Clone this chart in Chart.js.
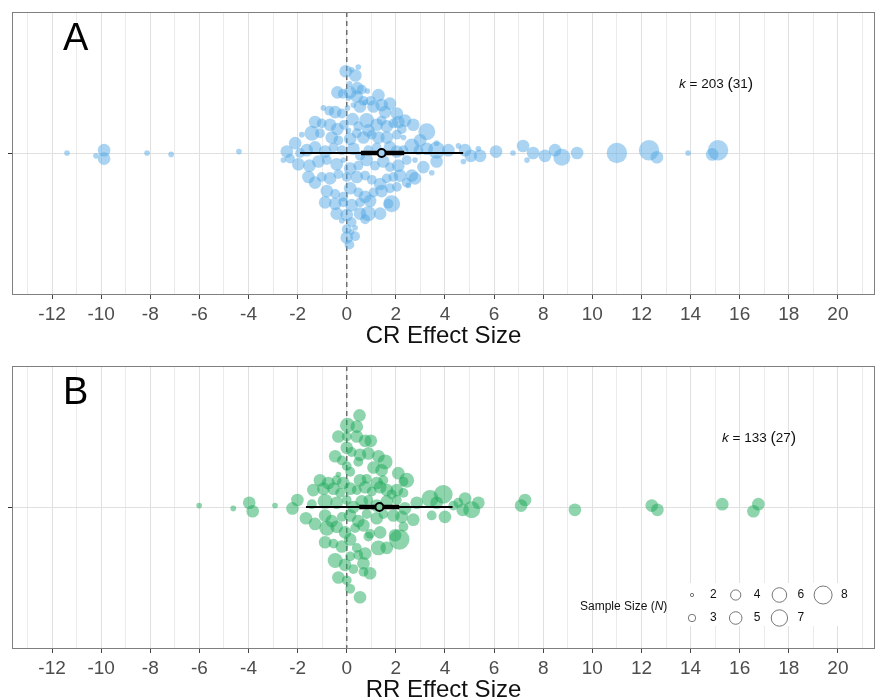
<!DOCTYPE html>
<html lang="en">
<head>
<meta charset="UTF-8">
<title>CR / RR effect sizes</title>
<style>
  body { margin: 0; background: #fff; }
  canvas { position: absolute; left: 0; }
  #chartA { top: 0; }
  #chartB { top: 354px; }
</style>
</head>
<body>
<canvas id="chartA" width="875" height="351"></canvas>
<canvas id="chartB" width="875" height="351"></canvas>

<script src="https://cdn.jsdelivr.net/npm/chart.js"></script>
<script>
// ---- panel A: CR effect sizes (x = effect size, y = swarm offset, n = sample size)
var crX = [
  -0.04, 0.35, 0.47, 0.20, 0.11, -0.38, -0.16, 0.14, 0.43, 0.61,
  0.84, 1.29, 0.98, 0.68, 0.41, 0.07, -0.95, -0.71, -0.47, -0.20,
  0.03, 0.27, 0.54, 0.75, 1.09, 1.42, 1.76, 1.56, 2.04, 2.10,
  2.37, -1.29, -1.02, -0.68, -0.38, -0.11, 0.07, 0.24, 0.47, 0.81,
  0.88, 1.22, 1.42, 1.63, 1.90, 2.24, 2.71, 3.26, -1.83, -1.42,
  -1.09, -0.61, -0.34, 0.14, 0.41, 0.68, 1.02, 1.29, 1.63, 2.04,
  2.31, 2.99, 3.66, -2.44, -2.10, -1.90, -1.63, -1.29, -0.88, -0.54,
  -0.20, 0.27, 0.54, 0.88, 1.22, 1.76, 2.04, 2.31, 2.65, 2.92,
  3.26, 3.66, 4.14, 4.55, 4.82, 5.05, 5.36, 5.43, 6.08, 4.75,
  -2.58, -2.31, -1.97, -1.52, -1.15, -0.81, -0.41, -0.14, 0.14, 0.47,
  0.81, 1.15, 1.49, 1.76, 2.10, 2.44, 2.78, 3.12, 3.46, 3.66,
  2.65, -1.56, -1.29, -1.02, -0.68, -0.34, 0.00, 0.41, 0.75, 1.02,
  1.36, 1.63, 1.90, 2.17, 2.44, 2.78, 2.51, -0.81, -0.47, -0.14,
  0.14, 0.47, 0.75, 1.09, 1.42, 1.76, 2.04, -0.88, -0.47, -0.14,
  0.20, 0.54, 0.95, 1.70, 1.83, -0.41, 0.00, 0.20, 0.54, 0.75,
  0.88, 1.36, -0.20, 0.00, 0.20, 0.34, 0.00, 0.34, 0.11,
  6.77, 7.18, 7.34, 7.59, 8.07, 8.48, 8.76, 9.38, 11.00, 12.31, 12.63, 13.90, 14.88, 15.12,
  -11.39, -10.21, -9.88, -9.88, -8.13, -7.15, -4.39
];
var crY = [
  0.58, 0.55, 0.61, 0.59, 0.49, 0.43, 0.42, 0.43, 0.46, 0.45,
  0.44, 0.41, 0.37, 0.37, 0.40, 0.39, 0.32, 0.30, 0.29, 0.28,
  0.32, 0.34, 0.33, 0.36, 0.33, 0.34, 0.35, 0.29, 0.28, 0.22,
  0.23, 0.22, 0.21, 0.20, 0.17, 0.20, 0.16, 0.24, 0.19, 0.23,
  0.16, 0.20, 0.23, 0.19, 0.21, 0.17, 0.20, 0.15, 0.13, 0.14,
  0.14, 0.11, 0.09, 0.10, 0.14, 0.11, 0.13, 0.11, 0.11, 0.13,
  0.11, 0.09, 0.07, 0.01, 0.07, 0.00, 0.02, 0.04, 0.01, 0.04,
  0.02, 0.03, -0.02, 0.02, 0.04, 0.04, 0.01, 0.02, 0.05, 0.02,
  0.03, 0.02, 0.02, 0.05, 0.02, -0.02, 0.03, -0.02, 0.01, -0.06,
  -0.05, -0.04, -0.08, -0.09, -0.06, -0.05, -0.08, -0.05, -0.11, -0.09,
  -0.05, -0.09, -0.06, -0.10, -0.09, -0.05, -0.05, -0.10, -0.14, -0.06,
  -0.16, -0.17, -0.21, -0.17, -0.18, -0.15, -0.17, -0.17, -0.16, -0.19,
  -0.22, -0.18, -0.17, -0.16, -0.21, -0.18, -0.23, -0.27, -0.29, -0.31,
  -0.25, -0.28, -0.31, -0.28, -0.27, -0.25, -0.24, -0.35, -0.36, -0.35,
  -0.37, -0.35, -0.34, -0.36, -0.36, -0.43, -0.44, -0.49, -0.43, -0.47,
  -0.43, -0.43, -0.48, -0.54, -0.56, -0.53, -0.60, -0.59, -0.65,
  0.00, 0.05, -0.05, 0.00, -0.02, 0.02, -0.03, 0.00, 0.00, 0.02, -0.03, 0.00, -0.01, 0.02,
  0.00, -0.02, 0.02, -0.04, 0.00, -0.01, 0.01
];
var crN = [
  4, 4, 2, 2, 2, 4, 3, 4, 4, 3,
  2, 4, 3, 3, 4, 2, 2, 3, 4, 3,
  2, 2, 4, 2, 4, 4, 4, 4, 4, 4,
  4, 4, 3, 4, 4, 3, 2, 4, 3, 5,
  4, 4, 3, 4, 3, 3, 4, 6, 2, 5,
  3, 4, 3, 4, 3, 4, 3, 4, 4, 3,
  2, 4, 2, 4, 4, 3, 4, 4, 4, 3,
  3, 4, 3, 3, 3, 4, 4, 3, 5, 3,
  4, 6, 4, 2, 4, 4, 2, 4, 4, 2,
  2, 3, 4, 4, 4, 3, 4, 2, 4, 3,
  4, 3, 4, 3, 4, 3, 2, 4, 2, 4,
  4, 4, 4, 3, 4, 3, 3, 4, 3, 3,
  4, 3, 3, 4, 3, 4, 2, 4, 3, 3,
  4, 3, 4, 3, 4, 3, 3, 4, 4, 3,
  4, 3, 4, 3, 6, 4, 4, 3, 4, 3,
  5, 4, 2, 3, 2, 2, 4, 3, 3,
  2, 4, 2, 4, 4, 4, 6, 4, 8, 8, 4, 2, 4, 8,
  2, 2, 4, 4, 2, 2, 2
];
var crMean = 1.42;
var crInner = [0.58, 2.34];
var crOuter = [-1.90, 4.74];

// ---- panel B: RR effect sizes
var rrX = [
  0.52, 0.03, 0.41, -0.34, 0.00, 0.41, 0.75, 0.98, 0.00, 0.20,
  -0.47, -0.20, 0.54, 0.88, 1.29, 1.56, 0.47, 0.00, -0.34, 0.14,
  1.09, 1.42, 2.10, 2.44, -1.09, -0.75, -0.41, -0.14, 0.54, 0.81,
  1.22, 1.49, 2.31, -1.36, -0.95, -0.54, -0.27, 0.14, 0.41, 0.75,
  1.02, 1.36, 1.63, 2.04, 2.31, 1.83, -1.42, -0.88, -0.41, 0.00,
  0.27, 0.61, 0.88, 1.22, 1.63, 2.04, 2.37, 2.85, 3.39, 3.93,
  3.66, 4.34, -1.66, -1.29, -0.88, -0.61, -0.20, 0.14, 0.47, 0.81,
  1.22, 1.49, 1.90, 2.24, 2.71, 3.46, 4.00, -0.81, -0.41, -0.07,
  0.34, 0.68, 0.95, 1.36, 1.97, 2.31, 2.14, -0.88, -0.54, -0.20,
  0.14, 0.41, 0.88, 1.29, 1.63, 0.75, 0.47, -0.47, -0.07, 0.14,
  0.27, 0.68, 0.95, -0.34, 0.00, 0.68, 0.14, 0.54,
  -6.01, -4.62, -3.97, -3.83, -2.92, -2.21, -2.01,
  4.54, 4.82, 4.72, 5.09, 5.36, 7.10, 7.26, 9.29, 12.42, 12.65, 15.29, 16.56, 16.76
];
var rrY = [
  0.65, 0.58, 0.57, 0.50, 0.50, 0.50, 0.47, 0.47, 0.42, 0.39,
  0.36, 0.33, 0.37, 0.38, 0.36, 0.32, 0.32, 0.29, 0.23, 0.25,
  0.28, 0.26, 0.24, 0.19, 0.19, 0.17, 0.19, 0.17, 0.19, 0.20,
  0.17, 0.19, 0.18, 0.12, 0.13, 0.13, 0.10, 0.13, 0.12, 0.14,
  0.11, 0.14, 0.12, 0.12, 0.10, 0.09, 0.02, 0.04, 0.03, 0.05,
  0.00, 0.04, 0.05, 0.01, 0.04, 0.05, -0.01, 0.03, 0.06, 0.09,
  0.03, 0.01, -0.08, -0.12, -0.06, -0.10, -0.07, -0.06, -0.10, -0.05,
  -0.08, -0.05, -0.06, -0.07, -0.09, -0.06, -0.07, -0.15, -0.14, -0.18,
  -0.15, -0.13, -0.19, -0.18, -0.20, -0.14, -0.23, -0.25, -0.26, -0.28,
  -0.23, -0.29, -0.21, -0.29, -0.29, -0.33, -0.34, -0.38, -0.41, -0.35,
  -0.44, -0.40, -0.47, -0.50, -0.52, -0.46, -0.58, -0.64,
  0.01, -0.01, 0.03, -0.03, 0.01, -0.01, 0.05,
  0.03, 0.06, -0.02, -0.02, 0.03, 0.01, 0.05, -0.02, 0.01, -0.02, 0.02, -0.03, 0.02
];
var rrN = [
  4, 5, 4, 4, 3, 4, 4, 4, 4, 3,
  4, 3, 4, 4, 4, 5, 3, 3, 2, 3,
  4, 4, 4, 5, 4, 4, 3, 4, 4, 3,
  4, 3, 3, 4, 4, 4, 3, 4, 3, 4,
  3, 4, 4, 4, 3, 3, 3, 5, 4, 3,
  4, 4, 3, 4, 4, 3, 4, 4, 6, 7,
  4, 3, 4, 4, 4, 4, 3, 4, 4, 3,
  4, 3, 4, 4, 4, 3, 4, 5, 4, 4,
  3, 4, 3, 4, 4, 3, 8, 4, 3, 4,
  4, 3, 3, 5, 4, 4, 3, 5, 4, 3,
  3, 4, 4, 4, 3, 3, 3, 4,
  2, 2, 4, 4, 2, 4, 4,
  3, 4, 4, 6, 4, 4, 4, 4, 4, 4, 4, 4, 4
];
var rrMean = 1.33;
var rrInner = [0.51, 2.14];
var rrOuter = [-1.66, 4.31];

var legendSizes = [2, 3, 4, 5, 6, 7, 8];

var xMin = -13.63, xMax = 21.51;
var sans = "'Liberation Sans', Arial, Helvetica, sans-serif";

function sizeToRadius(n) {
    return Math.sqrt(16 * (n - 2) + 8);
}

// dashed zero line, panel border, labels and size legend
var panelDecor = {
    id: 'panelDecor',
    beforeDatasetsDraw: function(chart) {
        var a = chart.chartArea, ctx = chart.ctx;
        var x0 = chart.scales.x.getPixelForValue(0);
        ctx.save();
        ctx.strokeStyle = '#6e6e6e';
        ctx.lineWidth = 1.5;
        ctx.setLineDash([5, 4]);
        ctx.beginPath();
        ctx.moveTo(x0, a.top);
        ctx.lineTo(x0, a.bottom);
        ctx.stroke();
        ctx.restore();
    },
    afterDraw: function(chart) {
        var o = chart.options.plugins.panelDecor;
        var a = chart.chartArea, ctx = chart.ctx;
        ctx.save();
        ctx.strokeStyle = '#7f7f7f';
        ctx.lineWidth = 1;
        ctx.strokeRect(a.left + 0.5, a.top + 0.5, a.right - a.left - 1, a.bottom - a.top);

        ctx.fillStyle = '#000';
        ctx.textBaseline = 'alphabetic';
        ctx.font = '38px ' + sans;
        ctx.fillText(o.letter, a.left + 51, a.top + 38);

        // k = ... (...)
        var x = o.kx, y = a.top + 76;
        ctx.fillStyle = '#111';
        ctx.font = 'italic 13.5px ' + sans;
        ctx.fillText('k', x, y);
        x += ctx.measureText('k').width;
        ctx.font = '13.5px ' + sans;
        var s = ' = ' + o.k + ' ';
        ctx.fillText(s, x, y);
        x += ctx.measureText(s).width;
        ctx.font = '16px ' + sans;
        ctx.fillText('(', x, y + 1);
        x += ctx.measureText('(').width;
        ctx.font = '13.5px ' + sans;
        ctx.fillText(o.studies, x, y);
        x += ctx.measureText(o.studies).width;
        ctx.font = '16px ' + sans;
        ctx.fillText(')', x, y + 1);

        if (o.legend) {
            var top = a.top + 217;
            ctx.fillStyle = '#fff';
            ctx.fillRect(682, top, 176, 43);
            ctx.fillStyle = '#111';
            ctx.textBaseline = 'middle';
            ctx.font = '12px ' + sans;
            var t = 'Sample Size (';
            ctx.fillText(t, 580, top + 24);
            var tx = 580 + ctx.measureText(t).width;
            ctx.font = 'italic 12px ' + sans;
            ctx.fillText('N', tx, top + 24);
            tx += ctx.measureText('N').width;
            ctx.font = '12px ' + sans;
            ctx.fillText(')', tx, top + 24);

            legendSizes.forEach(function(n) {
                var col = n % 2 === 0 ? (n - 2) / 2 : (n - 3) / 2;
                var row = n % 2 === 0 ? 0 : 1;
                var cx = 692 + col * 43.7;
                var cy = top + 12 + row * 23;
                ctx.strokeStyle = '#555';
                ctx.lineWidth = 0.8;
                ctx.beginPath();
                ctx.arc(cx, cy, Math.max(sizeToRadius(n) - 1.2, 1.5), 0, Math.PI * 2);
                ctx.stroke();
                ctx.fillStyle = '#111';
                ctx.font = '12px ' + sans;
                ctx.fillText(String(n), cx + 18, cy);
            });
        }
        ctx.restore();
    }
};

function makePanel(id, cfg) {
    var points = cfg.xs.map(function(x, i) {
        return { x: x, y: cfg.ys[i], r: sizeToRadius(cfg.ns[i]) };
    });
    return new Chart(document.getElementById(id).getContext('2d'), {
        type: 'bubble',
        data: {
            datasets: [
                {
                    type: 'bubble',
                    data: [{ x: cfg.mean, y: 0, r: 4 }],
                    backgroundColor: cfg.meanFill,
                    borderColor: '#000',
                    borderWidth: 2,
                    order: 0
                },
                {
                    type: 'line',
                    data: [{ x: cfg.inner[0], y: 0 }, { x: cfg.inner[1], y: 0 }],
                    borderColor: '#000',
                    borderWidth: 4.5,
                    pointRadius: 0,
                    order: 1
                },
                {
                    type: 'line',
                    data: [{ x: cfg.outer[0], y: 0 }, { x: cfg.outer[1], y: 0 }],
                    borderColor: '#000',
                    borderWidth: 2,
                    pointRadius: 0,
                    order: 2
                },
                {
                    type: 'bubble',
                    data: points,
                    backgroundColor: cfg.fill,
                    borderWidth: 0,
                    order: 3
                }
            ]
        },
        options: {
            responsive: false,
            animation: false,
            events: [],
            layout: { autoPadding: false, padding: { top: 12, left: 0, right: 0, bottom: 0 } },
            scales: {
                x: {
                    type: 'linear',
                    min: xMin,
                    max: xMax,
                    afterBuildTicks: function(s) {
                        var t = [];
                        for (var v = -13; v <= 21; v++) t.push({ value: v });
                        s.ticks = t;
                    },
                    afterFit: function(s) { s.height = 57; },
                    ticks: {
                        autoSkip: false,
                        maxRotation: 0,
                        padding: 4,
                        color: '#4d4d4d',
                        font: { family: sans, size: 19 },
                        callback: function(v) { return v % 2 === 0 ? String(v) : ''; }
                    },
                    grid: {
                        color: function(c) { return c.tick && c.tick.value % 2 === 0 ? '#e0e0e0' : '#ebebeb'; },
                        lineWidth: 1,
                        tickLength: 5,
                        tickColor: function(c) { return c.tick && c.tick.value % 2 === 0 ? '#444' : 'rgba(0,0,0,0)'; }
                    },
                    border: { display: false },
                    title: {
                        display: true,
                        text: cfg.title,
                        color: '#111',
                        font: { family: sans, size: 24 },
                        padding: { top: 0, bottom: 0 }
                    }
                },
                y: {
                    type: 'linear',
                    min: -1,
                    max: 1,
                    afterBuildTicks: function(s) { s.ticks = [{ value: 0 }]; },
                    afterFit: function(s) { s.width = 12; },
                    ticks: { display: false },
                    grid: { color: '#e0e0e0', tickLength: 4, tickColor: '#333' },
                    border: { display: false }
                }
            },
            plugins: {
                legend: { display: false },
                tooltip: { enabled: false },
                panelDecor: cfg.decor
            }
        },
        plugins: [panelDecor]
    });
}

makePanel('chartA', {
    xs: crX, ys: crY, ns: crN,
    mean: crMean, inner: crInner, outer: crOuter,
    fill: 'rgba(86,170,230,0.5)', meanFill: '#a6d2f2',
    title: 'CR Effect Size',
    decor: { letter: 'A', k: '203', studies: '31', kx: 679, legend: false }
});

makePanel('chartB', {
    xs: rrX, ys: rrY, ns: rrN,
    mean: rrMean, inner: rrInner, outer: rrOuter,
    fill: 'rgba(30,170,90,0.5)', meanFill: '#7ccc9c',
    title: 'RR Effect Size',
    decor: { letter: 'B', k: '133', studies: '27', kx: 722, legend: true }
});
</script>
</body>
</html>
